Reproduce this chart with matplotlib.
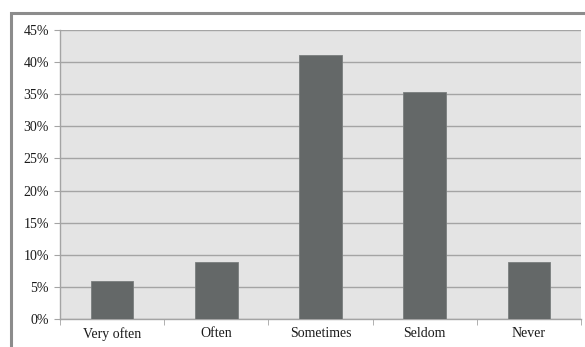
import matplotlib.pyplot as plt
from matplotlib.patches import Rectangle
from matplotlib.ticker import FuncFormatter, MultipleLocator

categories = ['Very often', 'Often', 'Sometimes', 'Seldom', 'Never']
shares = [5.9, 8.9, 41.1, 35.3, 8.9]

plt.rcParams['font.family'] = ['Liberation Serif', 'DejaVu Serif']

W, H = 585, 347
fig = plt.figure(figsize=(W/100, H/100), dpi=100)
fig.patch.set_facecolor('white')

# outer chart frame (runs off the right and bottom edges)
fig.patches.append(Rectangle((11/W, -0.02), 1.0, 1 - 13/H + 0.02, transform=fig.transFigure,
                             fill=False, edgecolor='#8c8c8c', lw=2.2))

ax = fig.add_axes([60/W, 1 - 319/H, 521/W, 289/H])
ax.set_facecolor('#e4e4e4')
x = list(range(len(categories)))
ax.bar(x, shares, width=0.41, color='#646868', edgecolor='#7a7e7e', lw=0.6, zorder=3)

ax.set_xlim(-0.5, len(categories) - 0.5)
ax.set_ylim(0, 45)
ax.yaxis.set_major_locator(MultipleLocator(5))
ax.yaxis.set_major_formatter(FuncFormatter(lambda v, p: f'{v:.0f}%'))
ax.grid(axis='y', color='#a4a4a4', lw=1.0, zorder=1)

ax.set_xticks(x)
ax.set_xticklabels(categories)
ax.set_xticks([i - 0.5 for i in range(len(categories) + 1)], minor=True)
ax.tick_params(axis='x', which='major', length=0, pad=6, labelsize=10, labelcolor='#1a1a1a')
ax.tick_params(axis='x', which='minor', length=4, color='#a4a4a4')
ax.tick_params(axis='y', length=4, color='#a4a4a4', labelsize=10, pad=4, labelcolor='#1a1a1a')

for s in ['top', 'right']:
    ax.spines[s].set_visible(False)
for s in ['left', 'bottom']:
    ax.spines[s].set_color('#a4a4a4')
    ax.spines[s].set_linewidth(1.0)

fig.savefig('out.png', dpi=100)
